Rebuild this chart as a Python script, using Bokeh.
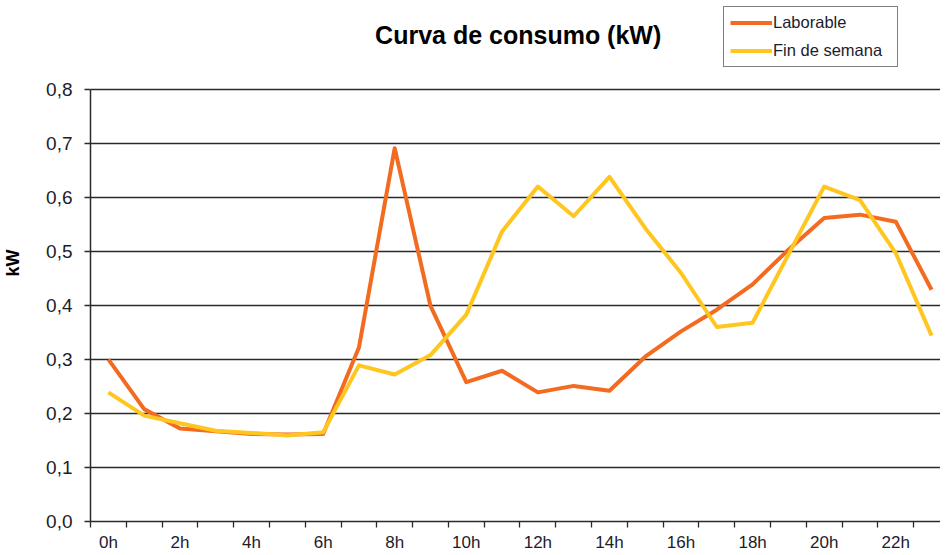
from bokeh.plotting import figure
from bokeh.models import Range1d, FixedTicker, CustomJSTickFormatter, Legend, LegendItem, Label
from bokeh.embed import file_html
from bokeh.resources import INLINE

# ---- data ----
hours = list(range(24))
hour_labels = [f"{h}h" for h in hours]
shown_hours = list(range(0, 24, 2))
y_ticks = [0.0, 0.1, 0.2, 0.3, 0.4, 0.5, 0.6, 0.7, 0.8]

laborable = [0.300, 0.208, 0.172, 0.167, 0.162, 0.161, 0.162, 0.322, 0.691, 0.399,
             0.258, 0.279, 0.239, 0.251, 0.242, 0.305, 0.352, 0.392, 0.439, 0.503,
             0.562, 0.568, 0.555, 0.429]
fin_semana = [0.239, 0.196, 0.182, 0.168, 0.164, 0.159, 0.165, 0.289, 0.272, 0.308,
              0.383, 0.537, 0.620, 0.565, 0.638, 0.543, 0.460, 0.360, 0.368, 0.494,
              0.620, 0.595, 0.497, 0.344]

series_names = ["Laborable", "Fin de semana"]
colors = ["#F26B21", "#FFC620"]
title_text = "Curva de consumo (kW)"

FONT = "Liberation Sans"
TXT = "#1c1c2c"
GRID = "#2a2a2a"

Y_TOP = 0.957  # extra headroom above the 0.8 line for title and legend

p = figure(width=940, height=554, output_backend="svg", toolbar_location=None, title=None,
           x_range=Range1d(-0.5, 23.25), y_range=Range1d(0, Y_TOP),
           min_border_left=85, min_border_right=0, min_border_top=4, min_border_bottom=31)
p.outline_line_color = None
p.background_fill_color = "white"

# lines
renderers = []
for vals, c in zip([laborable, fin_semana], colors):
    r = p.line(hours, vals, line_color=c, line_width=4, line_join="round")
    renderers.append(r)

# title
p.add_layout(Label(x=11.45, y=0.900, text=title_text, text_align="center",
                   text_baseline="alphabetic", text_font=FONT, text_font_size="25px",
                   text_font_style="bold", text_color="#000000"))

# grid
p.xgrid.visible = False
p.ygrid.ticker = FixedTicker(ticks=y_ticks)
p.ygrid.grid_line_color = GRID
p.ygrid.grid_line_width = 1.4

# y axis
ya = p.yaxis[0]
ya.ticker = FixedTicker(ticks=y_ticks)
ya.bounds = (0, 0.8)
ya.formatter = CustomJSTickFormatter(code="return tick.toFixed(1).replace('.', ',');")
ya.major_tick_out = 6
ya.major_tick_in = 0
ya.minor_tick_line_color = None
ya.axis_line_color = GRID
ya.axis_line_width = 1.5
ya.major_tick_line_color = GRID
ya.major_tick_line_width = 1.3
ya.major_label_text_font = FONT
ya.major_label_text_font_size = "19px"
ya.major_label_text_color = TXT
ya.major_label_standoff = 12
ya.axis_label = "kW"
ya.axis_label_text_font = FONT
ya.axis_label_text_font_size = "18px"
ya.axis_label_text_font_style = "bold"
ya.axis_label_text_color = "#000000"
ya.axis_label_standoff = 20

# x axis
xa = p.xaxis[0]
xa.ticker = FixedTicker(ticks=shown_hours, minor_ticks=[h - 0.5 for h in hours] + [23.5])
xa.major_label_overrides = {h: hour_labels[h] for h in shown_hours}
xa.major_tick_out = 0
xa.major_tick_in = 0
xa.minor_tick_out = 6
xa.minor_tick_in = 0
xa.minor_tick_line_color = GRID
xa.minor_tick_line_width = 1.3
xa.axis_line_color = GRID
xa.axis_line_width = 1.5
xa.major_label_text_font = FONT
xa.major_label_text_font_size = "17px"
xa.major_label_text_color = TXT
xa.major_label_standoff = 5

# legend
legend = Legend(items=[LegendItem(label=n, renderers=[r]) for n, r in zip(series_names, renderers)],
                location=(633, 454), orientation="vertical")
legend.label_text_font = FONT
legend.label_text_font_size = "16.5px"
legend.label_text_color = TXT
legend.glyph_width = 42
legend.glyph_height = 19
legend.label_height = 19
legend.label_width = 118
legend.label_standoff = 1
legend.spacing = 9
legend.padding = 6
legend.margin = 0
legend.border_line_color = "#000000"
legend.border_line_width = 1
legend.background_fill_color = "white"
legend.background_fill_alpha = 1
p.add_layout(legend, "center")

open("out.html", "w").write(file_html(p, INLINE))
